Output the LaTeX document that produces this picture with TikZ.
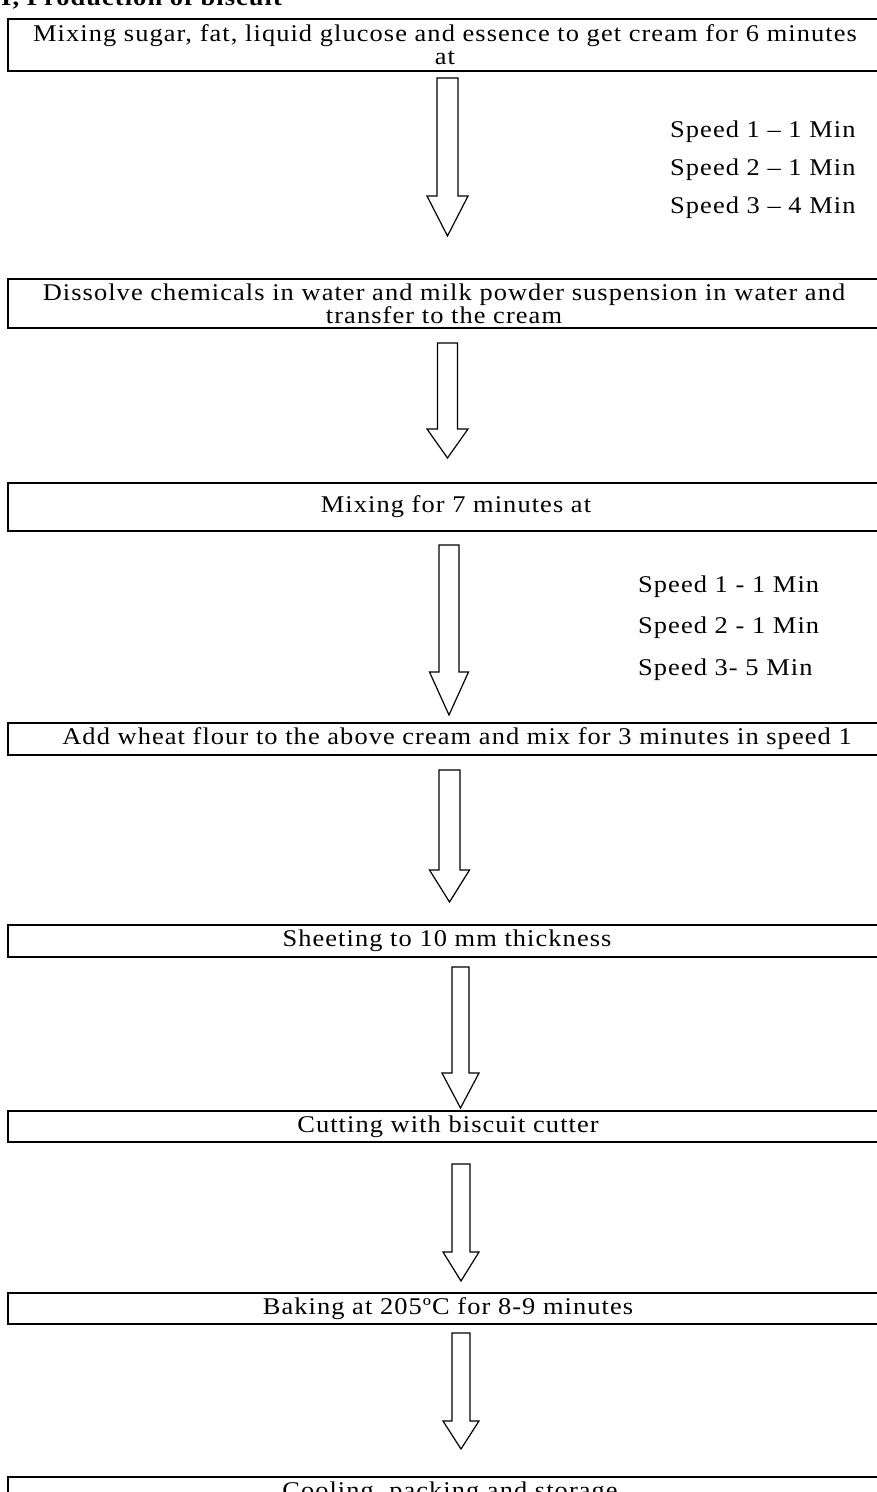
\documentclass[tikz,border=0pt]{standalone}
\usepackage{fontspec}
\setmainfont{Liberation Serif}[FakeStretch=1.1, LetterSpace=4.5]
\newcommand\bkarrow[7]{%
  \coordinate (#7s) at (#1,#2);
  \coordinate (#7t) at (#1,#4);
  \draw[barrow] (#1-#5,#2) -- (#1+#5,#2) -- (#1+#5,#3) -- (#1+#6,#3) -- (#1,#4) -- (#1-#6,#3) -- (#1-#5,#3) -- cycle;}
\begin{document}
\begin{tikzpicture}[x=1pt,y=-1pt,
  txt/.style={font=\fontsize{24}{23}\selectfont},
  box/.style={txt, draw, line width=2.2pt, inner sep=0pt, align=center},
  barrow/.style={draw, line width=1.2pt, line join=miter},
  lbl/.style={txt, anchor=west, inner sep=0pt}]
\useasboundingbox (0,0) rectangle (877,1492);
\fill[white] (0,0) rectangle (877,1492);

\node[txt, font=\fontsize{24}{23}\selectfont\bfseries, anchor=base west, inner sep=0pt] (title) at (1,5.5) {I, Production of biscuit};

\node[box, minimum width=874pt, minimum height=52pt] (b1) at (445,45)
  {Mixing sugar, fat, liquid glucose and essence to get cream for 6 minutes\\at};
\node[box, minimum width=872pt, minimum height=49pt] (b2) at (444,303.5)
  {Dissolve chemicals in water and milk powder suspension in water and\\transfer to the cream};
\node[box, minimum width=896pt, minimum height=48pt] (b3) at (456,507) {Mixing for 7 minutes at};
\node[box, minimum width=898pt, minimum height=32pt] (b4) at (457,739)
  {Add wheat flour to the above cream and mix for 3 minutes in speed 1};
\node[box, minimum width=878pt, minimum height=32pt] (b5) at (447,941) {Sheeting to 10 mm thickness};
\node[box, minimum width=880pt, minimum height=31pt] (b6) at (448,1126.5) {Cutting with biscuit cutter};
\node[box, minimum width=880pt, minimum height=31pt] (b7) at (448,1308.5) {Baking at 205ºC for 8-9 minutes};
\node[box, minimum width=884pt, minimum height=31pt] (b8) at (450,1492.5) {Cooling, packing and storage};

\bkarrow{447.5}{78}{196}{236}{10.5}{20.5}{a1}
\bkarrow{447.5}{343}{429}{458}{10}{20.5}{a2}
\bkarrow{449}{545}{672}{715}{10}{19.5}{a3}
\bkarrow{449.5}{770}{870}{902}{10.5}{20}{a4}
\bkarrow{460.5}{967}{1073}{1108}{8.5}{18.5}{a5}
\bkarrow{461}{1164}{1252}{1281}{9}{18}{a6}
\bkarrow{461}{1333}{1421}{1449}{9}{18}{a7}

\node[lbl] (s11) at (670,132) {Speed 1 – 1 Min};
\node[lbl] (s12) at (670,170) {Speed 2 – 1 Min};
\node[lbl] (s13) at (670,208) {Speed 3 – 4 Min};

\node[lbl] (s21) at (638,587) {Speed 1 - 1 Min};
\node[lbl] (s22) at (638,628) {Speed 2 - 1 Min};
\node[lbl] (s23) at (638,670) {Speed 3- 5 Min};
\end{tikzpicture}
\end{document}
